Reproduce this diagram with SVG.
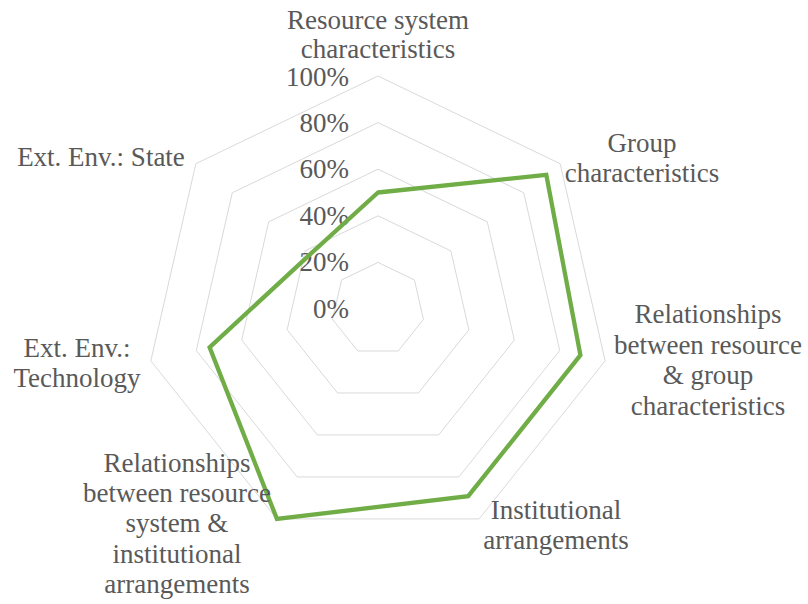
<svg xmlns="http://www.w3.org/2000/svg" width="808" height="604" viewBox="0 0 808 604">
<style>
.ring{fill:none;stroke:#d9d9d9;stroke-width:1}
.series{fill:none;stroke:#70ad47;stroke-width:4.3;stroke-linejoin:miter}
text{font-family:"Liberation Serif","Times New Roman",Times,serif;font-size:27px;fill:#595959}
.c{text-anchor:middle}
.tick{text-anchor:end}
</style>
<rect width="808" height="604" fill="#ffffff"/>
<g id="grid">
<polygon class="ring" points="378,76 560.17,163.73 605.16,360.85 479.09,518.93 276.91,518.93 150.84,360.85 195.83,163.73"/>
<polygon class="ring" points="378,122.6 523.73,192.78 559.73,350.48 458.88,476.94 297.12,476.94 196.27,350.48 232.27,192.78"/>
<polygon class="ring" points="378,169.2 487.30,221.84 514.30,340.11 438.66,434.96 317.34,434.96 241.70,340.11 268.70,221.84"/>
<polygon class="ring" points="378,215.8 450.87,250.89 468.86,329.74 418.44,392.97 337.56,392.97 287.14,329.74 305.13,250.89"/>
<polygon class="ring" points="378,262.4 414.43,279.95 423.43,319.37 398.22,350.99 357.78,350.99 332.57,319.37 341.57,279.95"/>
</g>
<g id="ticks">
<text class="tick" x="349" y="86">100%</text>
<text class="tick" x="349" y="131.6">80%</text>
<text class="tick" x="349" y="178.2">60%</text>
<text class="tick" x="349" y="224.8">40%</text>
<text class="tick" x="349" y="271.4">20%</text>
<text class="tick" x="349" y="318">0%</text>
</g>
<g id="connectors">
<polygon class="series" points="378,192.5 546.3,174.8 580.4,355.2 468.2,496.2 276.9,518.9 209.6,347.4 309.8,254.6"/>
</g>
<g id="axis-resource-system">
<text class="c" x="378" y="29">Resource system</text>
<text class="c" x="378" y="58">characteristics</text>
</g>
<g id="axis-group">
<text class="c" x="642" y="152">Group</text>
<text class="c" x="642" y="182">characteristics</text>
</g>
<g id="axis-rel-resource-group">
<text class="c" x="708" y="323">Relationships</text>
<text class="c" x="708" y="354">between resource</text>
<text class="c" x="708" y="384">&amp; group</text>
<text class="c" x="708" y="415">characteristics</text>
</g>
<g id="axis-institutional">
<text class="c" x="556" y="519">Institutional</text>
<text class="c" x="556" y="549">arrangements</text>
</g>
<g id="axis-rel-resource-institutional">
<text class="c" x="177" y="472">Relationships</text>
<text class="c" x="177" y="502">between resource</text>
<text class="c" x="177" y="532">system &amp;</text>
<text class="c" x="177" y="563">institutional</text>
<text class="c" x="177" y="593">arrangements</text>
</g>
<g id="axis-technology">
<text class="c" x="77" y="357">Ext. Env.:</text>
<text class="c" x="77" y="387">Technology</text>
</g>
<g id="axis-state">
<text class="c" x="101" y="166">Ext. Env.: State</text>
</g>
</svg>
